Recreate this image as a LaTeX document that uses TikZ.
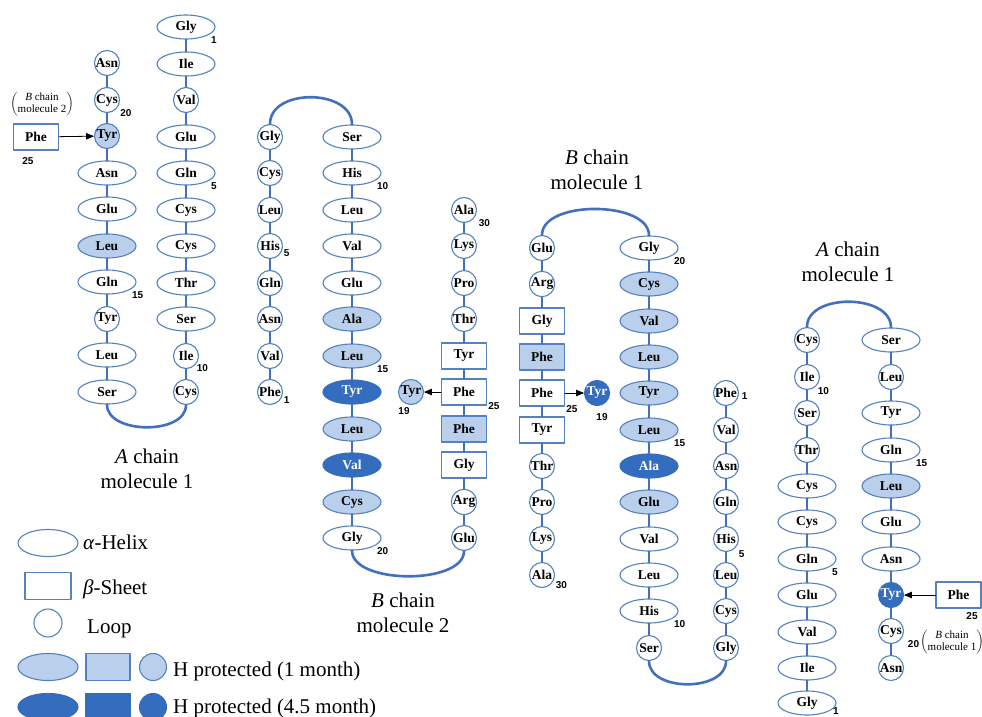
\documentclass[tikz,border=0pt]{standalone}
\usepackage{fontspec}
\setmainfont{Liberation Serif}
\newfontfamily\numfont{Liberation Sans}
\usepackage{tikz}
\usetikzlibrary{arrows}
\usetikzlibrary{shapes.geometric}
\definecolor{edgeblue}{RGB}{84,130,190}
\definecolor{linkblue}{RGB}{66,112,190}
\definecolor{liteblue}{RGB}{186,207,235}
\definecolor{darkblue}{RGB}{52,108,190}

\tikzset{
  res/.style={draw=edgeblue, line width=1.1pt, fill=white, inner sep=0pt, font=\fontsize{13.5}{14}\selectfont\bfseries},
  hel/.style={res, ellipse, minimum width=58pt, minimum height=24pt},
  lp/.style={res, circle, minimum size=25pt},
  sh/.style={res, rectangle, minimum width=45pt, minimum height=26pt},
  lite/.style={fill=liteblue},
  dark/.style={fill=darkblue, draw=darkblue, text=white},
  link/.style={linkblue, line width=2pt},
  loopline/.style={linkblue, line width=2.6pt},
  num/.style={font=\numfont\bfseries\fontsize{10}{10}\selectfont, inner sep=0.5pt},
  title/.style={align=center, font=\fontsize{21}{25}\selectfont},
  partner/.style={font=\fontsize{11}{12.5}\selectfont, inner sep=0pt},
  legtext/.style={anchor=base west, font=\fontsize{21}{24}\selectfont, inner sep=0pt}
}
\newcommand{\resnum}[3][3.5,4]{\node[num,anchor=west] (#2n) at ([shift={(#1)}]#2.south east) {#3};}

\begin{document}
\begin{tikzpicture}[line cap=round,line join=round,>=triangle 45,x=1pt,y=-1pt]
\useasboundingbox (0,0) rectangle (982,717);
% A chain, molecule 1 (left)
\node[lp] (aL1) at (107,63) {Asn};
\node[lp] (aL2) at (107,100) {Cys};
\node[lp,lite] (aL3) at (107,136) {Tyr};
\node[hel] (aL4) at (107,173) {Asn};
\node[hel] (aL5) at (107,209) {Glu};
\node[hel,lite] (aL6) at (107,246) {Leu};
\node[hel] (aL7) at (107,282) {Gln};
\node[lp] (aL8) at (107,319) {Tyr};
\node[hel] (aL9) at (107,355) {Leu};
\node[hel] (aL10) at (107,392) {Ser};
\node[hel] (aR1) at (186,27) {Gly};
\node[hel] (aR2) at (186,64) {Ile};
\node[lp] (aR3) at (186,100) {Val};
\node[hel] (aR4) at (186,137) {Glu};
\node[hel] (aR5) at (186,173) {Gln};
\node[hel] (aR6) at (186,210) {Cys};
\node[hel] (aR7) at (186,246) {Cys};
\node[hel] (aR8) at (186,283) {Thr};
\node[hel] (aR9) at (186,319) {Ser};
\node[lp] (aR10) at (186,356) {Ile};
\node[lp] (aR11) at (186,392) {Cys};
\node[sh] (aP) at (36,137) {Phe};
\draw[link] (aL1)--(aL2)--(aL3)--(aL4)--(aL5)--(aL6)--(aL7)--(aL8)--(aL9)--(aL10);
\draw[link] (aR1)--(aR2)--(aR3)--(aR4)--(aR5)--(aR6)--(aR7)--(aR8)--(aR9)--(aR10)--(aR11);
\draw[loopline] (aL10.south) .. controls +(0,30) and +(0,30) .. (aR11.south);
\draw[->, line width=0.8pt] (aP) -- (aL3);
\resnum{aL2}{20}
\resnum{aL7}{15}
\resnum{aR1}{1}
\resnum{aR5}{5}
\resnum[1,3]{aR10}{10}
\node[num] (aPn) at ([shift={(-8,11)}]aP.south) {25};
\node[partner] (aB) at (42,104) {$\left(\begin{tabular}{@{}c@{}}\textit{B} chain\\molecule 2\end{tabular}\right)$};
\node[title] (aT) at (147,469) {\textit{A} chain\\molecule 1};

% B chain, molecule 2
\node[lp] (bL1) at (270,137) {Gly};
\node[lp] (bL2) at (270,173) {Cys};
\node[lp] (bL3) at (270,210) {Leu};
\node[lp] (bL4) at (270,246) {His};
\node[lp] (bL5) at (270,283) {Gln};
\node[lp] (bL6) at (270,319) {Asn};
\node[lp] (bL7) at (270,356) {Val};
\node[lp] (bL8) at (270,392) {Phe};
\node[hel] (bM1) at (352,137) {Ser};
\node[hel] (bM2) at (352,173) {His};
\node[hel] (bM3) at (352,210) {Leu};
\node[hel] (bM4) at (352,246) {Val};
\node[hel] (bM5) at (352,283) {Glu};
\node[hel,lite] (bM6) at (352,319) {Ala};
\node[hel,lite] (bM7) at (352,356) {Leu};
\node[hel,dark] (bM8) at (352,392) {Tyr};
\node[hel,lite] (bM9) at (352,429) {Leu};
\node[hel,dark] (bM10) at (352,465) {Val};
\node[hel,lite] (bM11) at (352,502) {Cys};
\node[hel] (bM12) at (352,538) {Gly};
\node[lp] (bR1) at (464,210) {Ala};
\node[lp] (bR2) at (464,246) {Lys};
\node[lp] (bR3) at (464,283) {Pro};
\node[lp] (bR4) at (464,319) {Thr};
\node[sh] (bR5) at (464,356) {Tyr};
\node[sh] (bR6) at (464,392) {Phe};
\node[sh,lite] (bR7) at (464,429) {Phe};
\node[sh] (bR8) at (464,465) {Gly};
\node[lp] (bR9) at (464,502) {Arg};
\node[lp] (bR10) at (464,538) {Glu};
\node[lp,lite] (bT) at (411,392) {Tyr};
\draw[link] (bL1)--(bL2)--(bL3)--(bL4)--(bL5)--(bL6)--(bL7)--(bL8);
\draw[link] (bM1)--(bM2)--(bM3)--(bM4)--(bM5)--(bM6)--(bM7)--(bM8)--(bM9)--(bM10)--(bM11)--(bM12);
\draw[link] (bR1)--(bR2)--(bR3)--(bR4)--(bR5)--(bR6)--(bR7)--(bR8)--(bR9)--(bR10);
\draw[loopline] (bL1.north) .. controls +(0,-36) and +(0,-36) .. (bM1.north);
\draw[loopline] (bM12.south) .. controls +(0,34) and +(0,34) .. (bR10.south);
\draw[->, line width=0.8pt] (bR6) -- (bT);
\resnum[4,-2]{bL4}{5}
\resnum[4,-1]{bL8}{1}
\resnum{bM2}{10}
\resnum{bM7}{15}
\resnum{bM12}{20}
\resnum[5,4]{bR1}{30}
\resnum[0.5,1]{bR6}{25}
\node[num] (bTn) at ([shift={(-7,6)}]bT.south) {19};
\node[title] (bT2) at (403,613) {\textit{B} chain\\molecule 2};

% B chain, molecule 1
\node[lp] (cL1) at (542,248) {Glu};
\node[lp] (cL2) at (542,284) {Arg};
\node[sh] (cL3) at (542,321) {Gly};
\node[sh,lite] (cL4) at (542,357) {Phe};
\node[sh] (cL5) at (542,393) {Phe};
\node[sh] (cL6) at (542,430) {Tyr};
\node[lp] (cL7) at (542,466) {Thr};
\node[lp] (cL8) at (542,502) {Pro};
\node[lp] (cL9) at (542,539) {Lys};
\node[lp] (cL10) at (542,575) {Ala};
\node[hel] (cM1) at (649,248) {Gly};
\node[hel,lite] (cM2) at (649,284) {Cys};
\node[hel,lite] (cM3) at (649,321) {Val};
\node[hel,lite] (cM4) at (649,357) {Leu};
\node[hel,lite] (cM5) at (649,393) {Tyr};
\node[hel,lite] (cM6) at (649,430) {Leu};
\node[hel,dark] (cM7) at (649,466) {Ala};
\node[hel,lite] (cM8) at (649,502) {Glu};
\node[hel] (cM9) at (649,539) {Val};
\node[hel] (cM10) at (649,575) {Leu};
\node[hel] (cM11) at (649,611) {His};
\node[lp] (cM12) at (649,648) {Ser};
\node[lp] (cR1) at (726,393) {Phe};
\node[lp] (cR2) at (726,430) {Val};
\node[lp] (cR3) at (726,466) {Asn};
\node[lp] (cR4) at (726,502) {Gln};
\node[lp] (cR5) at (726,539) {His};
\node[lp] (cR6) at (726,575) {Leu};
\node[lp] (cR7) at (726,611) {Cys};
\node[lp] (cR8) at (726,648) {Gly};
\node[lp,dark] (cT) at (597,393) {Tyr};
\draw[link] (cL1)--(cL2)--(cL3)--(cL4)--(cL5)--(cL6)--(cL7)--(cL8)--(cL9)--(cL10);
\draw[link] (cM1)--(cM2)--(cM3)--(cM4)--(cM5)--(cM6)--(cM7)--(cM8)--(cM9)--(cM10)--(cM11)--(cM12);
\draw[link] (cR1)--(cR2)--(cR3)--(cR4)--(cR5)--(cR6)--(cR7)--(cR8);
\draw[loopline] (cL1.north) .. controls +(0,-35) and +(0,-35) .. (cM1.north);
\draw[loopline] (cM12.south) .. controls +(0,31) and +(0,31) .. (cR8.south);
\draw[->, line width=0.8pt] (cL5) -- (cT);
\resnum[0.5,3]{cL5}{25}
\resnum[4,1]{cL10}{30}
\resnum{cM1}{20}
\resnum{cM6}{15}
\resnum{cM11}{10}
\resnum[6,-6]{cR1}{1}
\resnum[3,6]{cR5}{5}
\node[num] (cTn) at ([shift={(5,11.5)}]cT.south) {19};
\node[title] (cT1) at (597,170) {\textit{B} chain\\molecule 1};

% A chain, molecule 1 (right)
\node[lp] (dL1) at (807,340) {Cys};
\node[lp] (dL2) at (807,377) {Ile};
\node[lp] (dL3) at (807,413) {Ser};
\node[lp] (dL4) at (807,450) {Thr};
\node[hel] (dL5) at (807,486) {Cys};
\node[hel] (dL6) at (807,522) {Cys};
\node[hel] (dL7) at (807,559) {Gln};
\node[hel] (dL8) at (807,595) {Glu};
\node[hel] (dL9) at (807,632) {Val};
\node[hel] (dL10) at (807,668) {Ile};
\node[hel] (dL11) at (807,703) {Gly};
\node[hel] (dR1) at (891,340) {Ser};
\node[lp] (dR2) at (891,377) {Leu};
\node[hel] (dR3) at (891,413) {Tyr};
\node[hel] (dR4) at (891,450) {Gln};
\node[hel,lite] (dR5) at (891,486) {Leu};
\node[hel] (dR6) at (891,522) {Glu};
\node[hel] (dR7) at (891,559) {Asn};
\node[lp,dark] (dR8) at (891,595) {Tyr};
\node[lp] (dR9) at (891,631) {Cys};
\node[lp] (dR10) at (891,668) {Asn};
\node[sh] (dP) at (958.5,595) {Phe};
\draw[link] (dL1)--(dL2)--(dL3)--(dL4)--(dL5)--(dL6)--(dL7)--(dL8)--(dL9)--(dL10)--(dL11);
\draw[link] (dR1)--(dR2)--(dR3)--(dR4)--(dR5)--(dR6)--(dR7)--(dR8)--(dR9)--(dR10);
\draw[loopline] (dL1.north) .. controls +(0,-34) and +(0,-34) .. (dR1.north);
\draw[->, line width=0.8pt] (dP) -- (dR8);
\resnum[1,5]{dL2}{10}
\resnum{dL7}{5}
\resnum[4.5,-1]{dL11}{1}
\resnum{dR4}{15}
\resnum[7,4]{dR9}{20}
\node[num] (dPn) at ([shift={(13.5,7.5)}]dP.south) {25};
\node[partner] (dB) at (952,642) {$\left(\begin{tabular}{@{}c@{}}\textit{B} chain\\molecule 1\end{tabular}\right)$};
\node[title] (dT) at (848,262) {\textit{A} chain\\molecule 1};

% legend
\node[hel, minimum width=60pt, minimum height=27pt] (kHel) at (48,543) {};
\node[legtext] (kHelT) at (83,549) {\textit{α}-Helix};
\node[sh, minimum width=46pt, minimum height=27pt] (kSh) at (48,586) {};
\node[legtext] (kShT) at (83,594) {\textit{β}-Sheet};
\node[lp, minimum size=28pt] (kLp) at (48,623) {};
\node[legtext] (kLpT) at (87,633) {Loop};
\node[hel, lite, minimum width=60pt, minimum height=27pt] (kHel1) at (48,667) {};
\node[sh, lite, minimum width=44pt, minimum height=27pt] (kSh1) at (108,667) {};
\node[lp, lite, minimum size=27pt] (kLp1) at (153,667) {};
\node[legtext] (kT1) at (173,676) {H protected (1 month)};
\node[hel, dark, minimum width=60pt, minimum height=27pt] (kHel2) at (48,707) {};
\node[sh, dark, minimum width=44pt, minimum height=27pt] (kSh2) at (108,707) {};
\node[lp, dark, minimum size=27pt] (kLp2) at (153,707) {};
\node[legtext] (kT2) at (173,713) {H protected (4.5 month)};
\end{tikzpicture}
\end{document}
